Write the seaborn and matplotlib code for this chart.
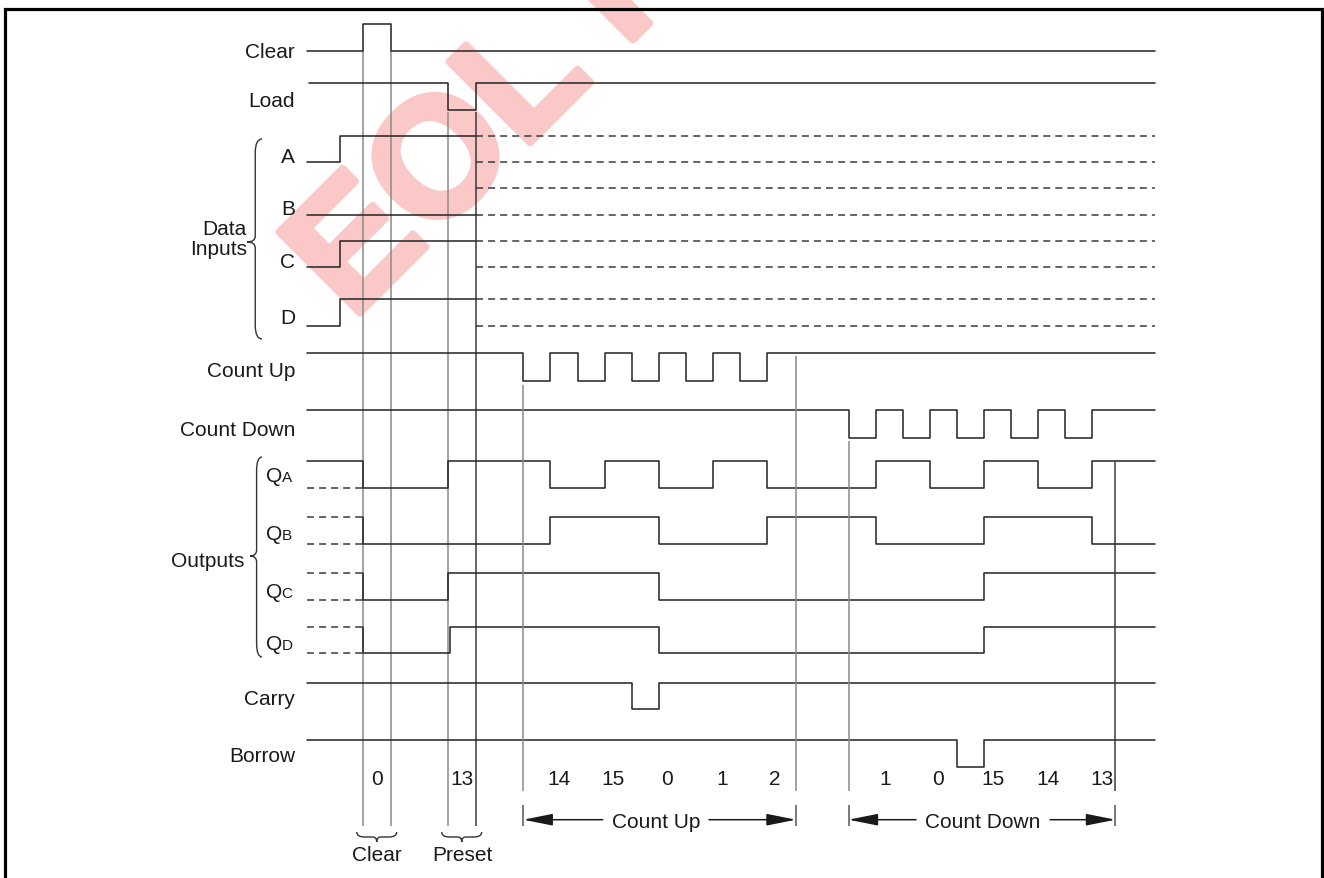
import numpy as np
import pandas as pd
import seaborn as sns
import matplotlib.pyplot as plt
from matplotlib.path import Path
from matplotlib.patches import PathPatch
import matplotlib.patheffects as pe

# ---------------- data: edge times (in half clock periods) and logic levels ----------------
T_END = 31.3
LOAD_T = 6.25          # after the load pulse the data inputs are "don't care"

clear_t = [0.0, 2.10, 3.12]
clear_v = [0, 1, 0]
load_t = [0.1, 5.22, 6.25]
load_v = [1, 0, 1]
a_t = [0.0, 1.24]
a_v = [0, 1]
b_t = [0.0]
b_v = [0]
c_t = [0.0, 1.24]
c_v = [0, 1]
d_t = [0.0, 1.24]
d_v = [0, 1]
up_t = [0.0, 8, 9, 10, 11, 12, 13, 14, 15, 16, 17]
up_v = [1, 0, 1, 0, 1, 0, 1, 0, 1, 0, 1]
down_t = [0.0, 20, 21, 22, 23, 24, 25, 26, 27, 28, 29]
down_v = [1, 0, 1, 0, 1, 0, 1, 0, 1, 0, 1]
qa_t = [0.0, 2.10, 5.22, 9, 11, 13, 15, 17, 21, 23, 25, 27, 29]
qa_v = [1, 0, 1, 0, 1, 0, 1, 0, 1, 0, 1, 0, 1]
qb_t = [2.10, 2.10, 9, 13, 17, 21, 25, 29]
qb_v = [1, 0, 1, 0, 1, 0, 1, 0]
qc_t = [2.10, 2.10, 5.22, 13, 25]
qc_v = [1, 0, 1, 0, 1]
qd_t = [2.10, 2.10, 5.28, 13, 25]
qd_v = [1, 0, 1, 0, 1]
carry_t = [0.0, 12, 13]
carry_v = [1, 0, 1]
borrow_t = [0.0, 24, 25]
borrow_v = [1, 0, 1]

clear_count, clear_count_t = 0, 2.60
preset_count, preset_count_t = 13, 5.73
count_up = [14, 15, 0, 1, 2]
count_up_t = [9.32, 11.31, 13.30, 15.33, 17.29]
count_down = [1, 0, 15, 14, 13]
count_down_t = [21.35, 23.30, 25.33, 27.36, 29.35]

# ---------------- layout (pixels) ----------------
W, H = 1324, 879
X0, UNIT = 306.5, 27.1          # pixel of t=0, pixels per half period

# name: (time list, level list, y_high, y_low)
rows = {
    "clear": (clear_t, clear_v, 25, 52),
    "load": (load_t, load_v, 84, 110.5),
    "a": (a_t, a_v, 136.5, 163),
    "b": (b_t, b_v, 189, 215.5),
    "c": (c_t, c_v, 241.5, 268),
    "d": (d_t, d_v, 300, 326.5),
    "up": (up_t, up_v, 354.3, 381.7),
    "down": (down_t, down_v, 411.3, 438.7),
    "qa": (qa_t, qa_v, 462.3, 489.3),
    "qb": (qb_t, qb_v, 517.7, 544.7),
    "qc": (qc_t, qc_v, 574, 601),
    "qd": (qd_t, qd_v, 627.7, 654.3),
    "carry": (carry_t, carry_v, 684, 710.3),
    "borrow": (borrow_t, borrow_v, 741, 768.3),
}
ends = {"a": LOAD_T, "b": LOAD_T, "c": LOAD_T, "d": LOAD_T}

INK = "#2a2a2a"
GUIDE = "#8a8a8a"
LW = 1.15

sns.set_theme(style="white")
plt.rcParams["font.family"] = ["Liberation Sans", "DejaVu Sans"]

fig = plt.figure(figsize=(W / 100, H / 100), dpi=100)
bg = fig.add_axes([0, 0, 1, 1], zorder=0)
bg.set_xlim(0, W)
bg.set_ylim(H, 0)
bg.axis("off")

ax = fig.add_axes([0, 0, 1, 1], zorder=1)
ax.patch.set_alpha(0)
ax.set_xlim(-X0 / UNIT, (W - X0) / UNIT)
ax.set_ylim(H, 0)
ax.axis("off")

# ---------------- solid waveforms ----------------
recs = []
for name, (ts, vs, yh, yl) in rows.items():
    t_end = ends.get(name, T_END)
    for t, v in zip(list(ts) + [t_end], list(vs) + [vs[-1]]):
        recs.append((name, t, yl - v * (yl - yh)))
solid = pd.DataFrame(recs, columns=["sig", "t", "y"])
sns.lineplot(data=solid, x="t", y="y", units="sig", estimator=None, sort=False,
             drawstyle="steps-post", color=INK, lw=LW, legend=False, ax=ax)

# ---------------- dashed (unknown / don't care) levels ----------------
drecs = []
for name in ["a", "b", "c", "d"]:
    _, _, yh, yl = rows[name]
    for y in (yh, yl):
        drecs += [(f"{name}{y}", LOAD_T, y), (f"{name}{y}", T_END, y)]
for name in ["qb", "qc", "qd"]:
    _, _, yh, yl = rows[name]
    for y in (yh, yl):
        drecs += [(f"{name}{y}", 0.0, y), (f"{name}{y}", 2.10, y)]
_, _, yh, yl = rows["qa"]
drecs += [("qalow", 0.0, yl), ("qalow", 2.10, yl)]
dashed = pd.DataFrame(drecs, columns=["seg", "t", "y"])
sns.lineplot(data=dashed, x="t", y="y", units="seg", estimator=None, sort=False,
             color="#3a3a3a", lw=1.1, linestyle=(0, (4.6, 3.3)), legend=False, ax=ax)

# ---------------- vertical guide lines ----------------
ax.vlines([clear_t[1], clear_t[2]], 52, 826.7, color=GUIDE, lw=1.1, zorder=1)
ax.vlines(load_t[1], 113, 826.7, color=GUIDE, lw=1.1, zorder=1)
ax.vlines(load_t[2], 113, 826.7, color="#3a3a3a", lw=1.1, zorder=1)
ax.vlines(up_t[1], 385.7, 791.7, color=GUIDE, lw=1.1)
ax.vlines(18.06, 357, 791.7, color=GUIDE, lw=1.1)
ax.vlines(down_t[1], 442, 791.7, color=GUIDE, lw=1.1)
ax.vlines(29.85, 463, 791.7, color="#3a3a3a", lw=1.1)
ax.vlines([up_t[1], 18.06, down_t[1], 29.85], 806, 827.5, color="#555555", lw=1.1)

# ---------------- count values ----------------
num_kw = dict(fontsize=15, color="#1a1a1a", ha="center", va="baseline")
ax.text(clear_count_t, 785, str(clear_count), **num_kw)
ax.text(preset_count_t, 785, str(preset_count), **num_kw)
for t, v in zip(count_up_t, count_up):
    ax.text(t, 785, str(v), **num_kw)
for t, v in zip(count_down_t, count_down):
    ax.text(t, 785, str(v), **num_kw)

# ---------------- span arrows ----------------
def span(t0, t1, gap0, gap1, label, y=820.7):
    props = dict(arrowstyle="-|>,head_length=1.0,head_width=0.2", mutation_scale=18,
                 color="#1a1a1a", lw=1.1, shrinkA=0, shrinkB=0)
    ax.annotate("", xy=(t0, y), xytext=(gap0, y), arrowprops=props)
    ax.annotate("", xy=(t1, y), xytext=(gap1, y), arrowprops=props)
    ax.text((gap0 + gap1) / 2, 828, label, fontsize=15, color="#1a1a1a",
            ha="center", va="baseline")

span(up_t[1], 18.06, 10.93, 14.85, "Count Up")
span(down_t[1], 29.85, 22.49, 27.44, "Count Down")

# ---------------- page decoration (pixel axes) ----------------
bg.text(352, 322, "EOL PRODUCT", rotation=45, rotation_mode="anchor", ha="left",
        va="baseline", fontsize=120, fontweight="bold", color="#fbc8c8", zorder=0,
        path_effects=[pe.withStroke(linewidth=5, foreground="#fbc8c8")])
bg.plot([5, 5, 1322, 1322], [H + 5, 9.5, 9.5, H + 5], color="black", lw=2.3,
        solid_joinstyle="miter", zorder=3)

lab_kw = dict(fontsize=15, color="#1a1a1a", ha="right", va="baseline")
labels = [("Clear", 58), ("Load", 107), ("A", 163), ("B", 215), ("C", 268), ("D", 324),
          ("Count Up", 377), ("Count Down", 436), ("Carry", 705), ("Borrow", 762)]
for txt, yb in labels:
    bg.text(295, yb, txt, **lab_kw)
for sub, yb in [("A", 481.7), ("B", 540), ("C", 598), ("D", 650)]:
    bg.text(282, yb, "Q", fontsize=15, color="#1a1a1a", ha="right", va="baseline")
    bg.text(281.5, yb, sub, fontsize=11, color="#1a1a1a", ha="left", va="baseline")
bg.text(247, 235, "Data", **lab_kw)
bg.text(247, 255, "Inputs", **lab_kw)
bg.text(244, 567, "Outputs", **lab_kw)
bg.text(377, 861, "Clear", fontsize=15, color="#1a1a1a", ha="center", va="baseline")
bg.text(462, 861, "Preset", fontsize=15, color="#1a1a1a", ha="center", va="baseline")


def vbrace(x_tip, x_end, y0, y1, ym, r=14):
    xm = x_tip + 0.55 * (x_end - x_tip)
    verts = [(x_end, y0), (xm, y0), (xm, y0 + r), (xm, ym - 6), (xm, ym), (x_tip, ym),
             (xm, ym), (xm, ym + 6), (xm, y1 - r), (xm, y1), (x_end, y1)]
    codes = [Path.MOVETO, Path.CURVE3, Path.CURVE3, Path.LINETO, Path.CURVE3, Path.CURVE3,
             Path.CURVE3, Path.CURVE3, Path.LINETO, Path.CURVE3, Path.CURVE3]
    bg.add_patch(PathPatch(Path(verts, codes), fill=False, ec="#333333", lw=1.0))


def hbrace(x0, x1, y_end, y_tip, r=8):
    xm = (x0 + x1) / 2
    ys = y_end + 0.5 * (y_tip - y_end)
    verts = [(x0, y_end), (x0, ys), (x0 + r, ys), (xm - 4, ys), (xm, ys), (xm, y_tip),
             (xm, ys), (xm + 4, ys), (x1 - r, ys), (x1, ys), (x1, y_end)]
    codes = [Path.MOVETO, Path.CURVE3, Path.CURVE3, Path.LINETO, Path.CURVE3, Path.CURVE3,
             Path.CURVE3, Path.CURVE3, Path.LINETO, Path.CURVE3, Path.CURVE3]
    bg.add_patch(PathPatch(Path(verts, codes), fill=False, ec="#333333", lw=1.0))


vbrace(247, 262, 140, 340, 243)
vbrace(250, 262, 458, 658, 557)
hbrace(356.7, 396.7, 833, 843)
hbrace(441.7, 481.7, 833, 843)

fig.savefig("out.png", dpi=100)
